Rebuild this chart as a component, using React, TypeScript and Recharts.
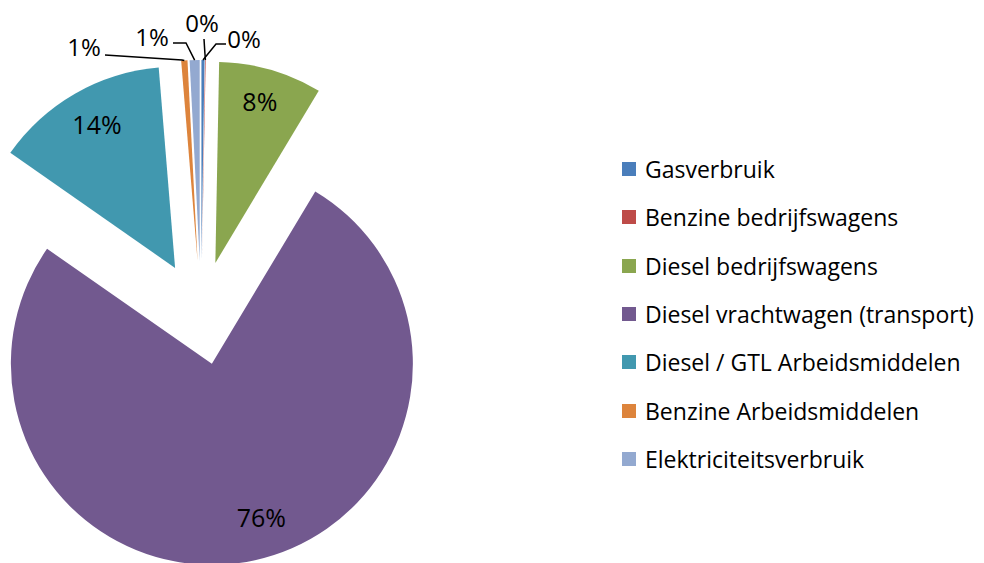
import React, { useEffect } from 'react';
import { PieChart, Pie, Cell, Sector, Legend, Tooltip } from 'recharts';

const CATEGORIES = [
  'Gasverbruik',
  'Benzine bedrijfswagens',
  'Diesel bedrijfswagens',
  'Diesel vrachtwagen (transport)',
  'Diesel / GTL Arbeidsmiddelen',
  'Benzine Arbeidsmiddelen',
  'Elektriciteitsverbruik',
];
const SHARES = [0.25, 0.05, 8.3, 76.1, 14.0, 0.5, 0.8];
const LABELS = ['0%', '0%', '8%', '76%', '14%', '1%', '1%'];

const COLORS = ['#4a7ebb', '#be4b48', '#8aa64f', '#72598f', '#4198af', '#dd843c', '#93a9d0'];

const data = CATEGORIES.map((name, i) => ({ name, value: SHARES[i] }));

const RADIAN = Math.PI / 180;
const EXPLODE = 52; // distance every slice is pulled out
const FONT = '"Open Sans", Lato, sans-serif';

// pulled-out slice
const ExplodedSector = (props: any) => {
  const { cx, cy, midAngle, innerRadius, outerRadius, startAngle, endAngle, fill } = props;
  const dx = EXPLODE * Math.cos(-midAngle * RADIAN);
  const dy = EXPLODE * Math.sin(-midAngle * RADIAN);
  return (
    <Sector
      cx={cx + dx}
      cy={cy + dy}
      innerRadius={innerRadius}
      outerRadius={outerRadius}
      startAngle={startAngle}
      endAngle={endAngle}
      fill={fill}
      stroke="none"
    />
  );
};

// leader layout for the thin slices at the top: text centre + elbow points
const LEADERS: Record<number, { tx: number; ty: number; pts: number[][] }> = {
  0: { tx: 244, ty: 38, pts: [[226, 44], [216, 44]] },
  1: { tx: 202, ty: 22, pts: [[204, 39]] },
  5: { tx: 84, ty: 46, pts: [[105, 55], [182, 60]] },
  6: { tx: 152, ty: 36, pts: [[173, 43], [186, 43]] },
};

// small nudges so the inside labels sit where the reference has them
const NUDGE: Record<number, number[]> = { 2: [-1, -4], 3: [15, -8], 4: [4, -1] };

const renderLabel = (props: any) => {
  const { cx, cy, midAngle, outerRadius, index } = props;
  const cos = Math.cos(-midAngle * RADIAN);
  const sin = Math.sin(-midAngle * RADIAN);
  const lead = LEADERS[index];
  if (lead) {
    const ex = cx + (EXPLODE + outerRadius) * cos;
    const ey = cy + (EXPLODE + outerRadius) * sin;
    const pts = [...lead.pts, [ex, ey]].map((p) => p.join(',')).join(' ');
    return (
      <g key={`lbl-${index}`}>
        <polyline points={pts} fill="none" stroke="#000" strokeWidth={1.5} />
        <text x={lead.tx} y={lead.ty} textAnchor="middle" dominantBaseline="central" fontSize={24} fontFamily={FONT} fill="#000">
          {LABELS[index]}
        </text>
      </g>
    );
  }
  const r = EXPLODE + outerRadius * 0.82;
  const [nx, ny] = NUDGE[index] || [0, 0];
  return (
    <text
      key={`lbl-${index}`}
      x={cx + r * cos + nx}
      y={cy + r * sin + ny}
      textAnchor="middle"
      dominantBaseline="central"
      fontSize={25}
      fontFamily={FONT}
      fill="#000"
    >
      {LABELS[index]}
    </text>
  );
};

const renderLegend = () => (
  <div style={{ fontFamily: FONT, fontSize: 23, color: '#000' }}>
    {CATEGORIES.map((name, i) => (
      <div key={name} style={{ display: 'flex', alignItems: 'center', height: 48.3 }}>
        <span style={{ width: 14, height: 14, background: COLORS[i], marginRight: 9, display: 'inline-block', flexShrink: 0 }} />
        <span style={{ whiteSpace: 'nowrap' }}>{name}</span>
      </div>
    ))}
  </div>
);

export default function App() {
  useEffect(() => {
    document.body.style.margin = '0';
  }, []);

  return (
    <div style={{ width: 984, height: 563, background: '#fff' }}>
      <PieChart width={984} height={563} margin={{ top: 0, right: 0, bottom: 0, left: 0 }}>
        <Pie
          data={data}
          dataKey="value"
          nameKey="name"
          cx={201}
          cy={313}
          outerRadius={201}
          startAngle={90}
          endAngle={-270}
          stroke="none"
          labelLine={false}
          label={renderLabel}
          shape={ExplodedSector}
          activeShape={ExplodedSector}
          inactiveShape={ExplodedSector}
          isAnimationActive={false}
        >
          {data.map((entry, index) => (
            <Cell key={`cell-${index}`} fill={COLORS[index]} />
          ))}
        </Pie>
        <Tooltip defaultIndex={0} content={() => null} cursor={false} />
        <Legend
          layout="vertical"
          align="right"
          verticalAlign="top"
          content={renderLegend}
          wrapperStyle={{ left: 622, top: 145, width: 362 }}
        />
      </PieChart>
    </div>
  );
}
